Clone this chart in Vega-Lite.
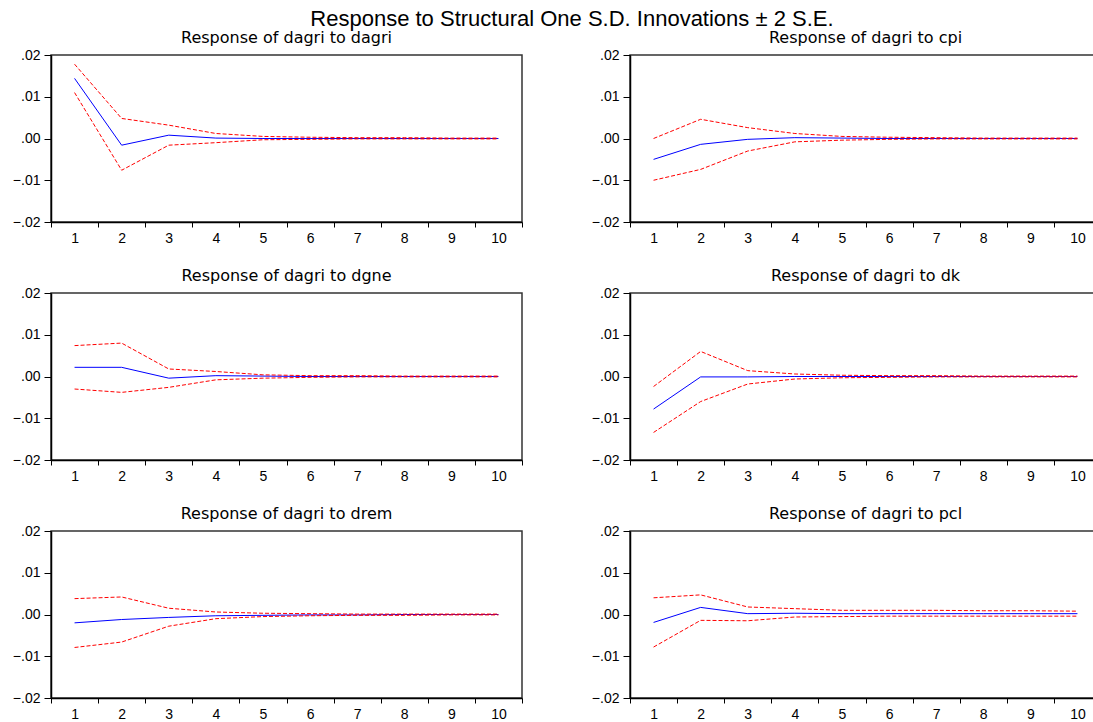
{
  "$schema": "https://vega.github.io/schema/vega-lite/v6.json",
  "padding": {"left": 11, "top": 8, "right": 0, "bottom": 0},
  "title": {"text": "Response to Structural One S.D. Innovations ± 2 S.E.", "font": "Liberation Sans", "fontSize": 22, "fontWeight": "normal", "color": "#000000", "anchor": "middle", "offset": -2, "dx": 15},
  "data": {"values": [
    {"panel": "Response of dagri to dagri", "period": 1, "resp": 0.0144, "upper": 0.0178, "lower": 0.0110},
    {"panel": "Response of dagri to dagri", "period": 2, "resp": -0.0016, "upper": 0.0048, "lower": -0.0076},
    {"panel": "Response of dagri to dagri", "period": 3, "resp": 0.0008, "upper": 0.0032, "lower": -0.0016},
    {"panel": "Response of dagri to dagri", "period": 4, "resp": 0.0001, "upper": 0.0012, "lower": -0.0010},
    {"panel": "Response of dagri to dagri", "period": 5, "resp": 0.0000, "upper": 0.0005, "lower": -0.0003},
    {"panel": "Response of dagri to dagri", "period": 6, "resp": 0.0000, "upper": 0.0003, "lower": -0.0002},
    {"panel": "Response of dagri to dagri", "period": 7, "resp": 0.0000, "upper": 0.0002, "lower": -0.0001},
    {"panel": "Response of dagri to dagri", "period": 8, "resp": 0.0000, "upper": 0.0002, "lower": -0.0001},
    {"panel": "Response of dagri to dagri", "period": 9, "resp": 0.0000, "upper": 0.0001, "lower": -0.0001},
    {"panel": "Response of dagri to dagri", "period": 10, "resp": 0.0000, "upper": 0.0001, "lower": -0.0001},
    {"panel": "Response of dagri to cpi", "period": 1, "resp": -0.0050, "upper": 0.0000, "lower": -0.0100},
    {"panel": "Response of dagri to cpi", "period": 2, "resp": -0.0014, "upper": 0.0046, "lower": -0.0074},
    {"panel": "Response of dagri to cpi", "period": 3, "resp": -0.0002, "upper": 0.0026, "lower": -0.0030},
    {"panel": "Response of dagri to cpi", "period": 4, "resp": 0.0002, "upper": 0.0012, "lower": -0.0008},
    {"panel": "Response of dagri to cpi", "period": 5, "resp": 0.0001, "upper": 0.0005, "lower": -0.0004},
    {"panel": "Response of dagri to cpi", "period": 6, "resp": 0.0000, "upper": 0.0003, "lower": -0.0002},
    {"panel": "Response of dagri to cpi", "period": 7, "resp": 0.0000, "upper": 0.0002, "lower": -0.0001},
    {"panel": "Response of dagri to cpi", "period": 8, "resp": 0.0000, "upper": 0.0001, "lower": -0.0001},
    {"panel": "Response of dagri to cpi", "period": 9, "resp": 0.0000, "upper": 0.0001, "lower": -0.0001},
    {"panel": "Response of dagri to cpi", "period": 10, "resp": 0.0000, "upper": 0.0001, "lower": -0.0001},
    {"panel": "Response of dagri to dgne", "period": 1, "resp": 0.0022, "upper": 0.0074, "lower": -0.0030},
    {"panel": "Response of dagri to dgne", "period": 2, "resp": 0.0022, "upper": 0.0080, "lower": -0.0038},
    {"panel": "Response of dagri to dgne", "period": 3, "resp": -0.0004, "upper": 0.0018, "lower": -0.0026},
    {"panel": "Response of dagri to dgne", "period": 4, "resp": 0.0002, "upper": 0.0012, "lower": -0.0008},
    {"panel": "Response of dagri to dgne", "period": 5, "resp": 0.0001, "upper": 0.0004, "lower": -0.0004},
    {"panel": "Response of dagri to dgne", "period": 6, "resp": 0.0000, "upper": 0.0002, "lower": -0.0002},
    {"panel": "Response of dagri to dgne", "period": 7, "resp": 0.0000, "upper": 0.0002, "lower": -0.0001},
    {"panel": "Response of dagri to dgne", "period": 8, "resp": 0.0000, "upper": 0.0001, "lower": -0.0001},
    {"panel": "Response of dagri to dgne", "period": 9, "resp": 0.0000, "upper": 0.0001, "lower": -0.0001},
    {"panel": "Response of dagri to dgne", "period": 10, "resp": 0.0000, "upper": 0.0001, "lower": -0.0001},
    {"panel": "Response of dagri to dk", "period": 1, "resp": -0.0078, "upper": -0.0024, "lower": -0.0134},
    {"panel": "Response of dagri to dk", "period": 2, "resp": -0.0001, "upper": 0.0060, "lower": -0.0060},
    {"panel": "Response of dagri to dk", "period": 3, "resp": -0.0001, "upper": 0.0014, "lower": -0.0018},
    {"panel": "Response of dagri to dk", "period": 4, "resp": 0.0000, "upper": 0.0006, "lower": -0.0006},
    {"panel": "Response of dagri to dk", "period": 5, "resp": 0.0000, "upper": 0.0003, "lower": -0.0003},
    {"panel": "Response of dagri to dk", "period": 6, "resp": 0.0000, "upper": 0.0002, "lower": -0.0002},
    {"panel": "Response of dagri to dk", "period": 7, "resp": 0.0000, "upper": 0.0002, "lower": -0.0001},
    {"panel": "Response of dagri to dk", "period": 8, "resp": 0.0000, "upper": 0.0001, "lower": -0.0001},
    {"panel": "Response of dagri to dk", "period": 9, "resp": 0.0000, "upper": 0.0001, "lower": -0.0001},
    {"panel": "Response of dagri to dk", "period": 10, "resp": 0.0000, "upper": 0.0001, "lower": -0.0001},
    {"panel": "Response of  dagri to drem", "period": 1, "resp": -0.0020, "upper": 0.0038, "lower": -0.0079},
    {"panel": "Response of  dagri to drem", "period": 2, "resp": -0.0012, "upper": 0.0042, "lower": -0.0066},
    {"panel": "Response of  dagri to drem", "period": 3, "resp": -0.0007, "upper": 0.0015, "lower": -0.0028},
    {"panel": "Response of  dagri to drem", "period": 4, "resp": -0.0003, "upper": 0.0006, "lower": -0.0010},
    {"panel": "Response of  dagri to drem", "period": 5, "resp": -0.0002, "upper": 0.0003, "lower": -0.0005},
    {"panel": "Response of  dagri to drem", "period": 6, "resp": -0.0001, "upper": 0.0002, "lower": -0.0003},
    {"panel": "Response of  dagri to drem", "period": 7, "resp": -0.0001, "upper": 0.0001, "lower": -0.0002},
    {"panel": "Response of  dagri to drem", "period": 8, "resp": 0.0000, "upper": 0.0001, "lower": -0.0002},
    {"panel": "Response of  dagri to drem", "period": 9, "resp": 0.0000, "upper": 0.0001, "lower": -0.0001},
    {"panel": "Response of  dagri to drem", "period": 10, "resp": 0.0000, "upper": 0.0001, "lower": -0.0001},
    {"panel": "Response of dagri to pcl", "period": 1, "resp": -0.0019, "upper": 0.0040, "lower": -0.0078},
    {"panel": "Response of dagri to pcl", "period": 2, "resp": 0.0017, "upper": 0.0047, "lower": -0.0014},
    {"panel": "Response of dagri to pcl", "period": 3, "resp": 0.0002, "upper": 0.0018, "lower": -0.0015},
    {"panel": "Response of dagri to pcl", "period": 4, "resp": 0.0003, "upper": 0.0014, "lower": -0.0006},
    {"panel": "Response of dagri to pcl", "period": 5, "resp": 0.0002, "upper": 0.0010, "lower": -0.0005},
    {"panel": "Response of dagri to pcl", "period": 6, "resp": 0.0002, "upper": 0.0010, "lower": -0.0004},
    {"panel": "Response of dagri to pcl", "period": 7, "resp": 0.0002, "upper": 0.0010, "lower": -0.0004},
    {"panel": "Response of dagri to pcl", "period": 8, "resp": 0.0002, "upper": 0.0009, "lower": -0.0004},
    {"panel": "Response of dagri to pcl", "period": 9, "resp": 0.0002, "upper": 0.0009, "lower": -0.0004},
    {"panel": "Response of dagri to pcl", "period": 10, "resp": 0.0002, "upper": 0.0008, "lower": -0.0004}
  ]},
  "facet": {
    "field": "panel", "type": "nominal",
    "sort": ["Response of dagri to dagri", "Response of dagri to cpi", "Response of dagri to dgne", "Response of dagri to dk", "Response of  dagri to drem", "Response of dagri to pcl"],
    "title": null,
    "header": {"labelFont": "DejaVu Sans", "labelFontSize": 16, "labelColor": "#000000", "labelPadding": 2}
  },
  "columns": 2,
  "spacing": {"row": 21, "column": 66},
  "spec": {
    "width": 471,
    "height": 167,
    "encoding": {
      "x": {"field": "period", "type": "ordinal", "scale": {"type": "band", "paddingInner": 0, "paddingOuter": 0}, "axis": {"title": null, "labelAngle": 0, "tickBand": "extent", "grid": false}}
    },
    "layer": [
      {"mark": {"type": "rule", "color": "#000000", "strokeWidth": 1}, "encoding": {"y": {"datum": 0, "type": "quantitative", "scale": {"domain": [-0.02, 0.02], "nice": false, "zero": false}, "axis": {"title": null, "values": [-0.02, -0.01, 0, 0.01, 0.02], "labelExpr": "replace(format(datum.value, '.2f'), '0.', '.')", "grid": false}}}},
      {"mark": {"type": "line", "color": "#0000ff", "strokeWidth": 1}, "encoding": {"y": {"field": "resp", "type": "quantitative", "scale": {"domain": [-0.02, 0.02], "nice": false, "zero": false}, "axis": {"title": null, "values": [-0.02, -0.01, 0, 0.01, 0.02], "labelExpr": "replace(format(datum.value, '.2f'), '0.', '.')", "grid": false}}}},
      {"mark": {"type": "line", "color": "#ff0000", "strokeWidth": 1, "strokeDash": [4, 2]}, "encoding": {"y": {"field": "upper", "type": "quantitative", "scale": {"domain": [-0.02, 0.02], "nice": false, "zero": false}, "axis": {"title": null, "values": [-0.02, -0.01, 0, 0.01, 0.02], "labelExpr": "replace(format(datum.value, '.2f'), '0.', '.')", "grid": false}}}},
      {"mark": {"type": "line", "color": "#ff0000", "strokeWidth": 1, "strokeDash": [4, 2]}, "encoding": {"y": {"field": "lower", "type": "quantitative", "scale": {"domain": [-0.02, 0.02], "nice": false, "zero": false}, "axis": {"title": null, "values": [-0.02, -0.01, 0, 0.01, 0.02], "labelExpr": "replace(format(datum.value, '.2f'), '0.', '.')", "grid": false}}}}
    ]
  },
  "resolve": {"axis": {"x": "independent", "y": "independent"}},
  "config": {
    "background": "#ffffff",
    "font": "Liberation Sans",
    "view": {"stroke": "#333333", "strokeWidth": 1.5},
    "axis": {"domainColor": "#000000", "domainWidth": 1.5, "tickColor": "#000000", "tickWidth": 1, "labelColor": "#000000", "labelFont": "Liberation Sans", "labelFontSize": 14},
    "axisX": {"tickSize": 5, "labelPadding": 4},
    "axisY": {"tickSize": 7, "labelPadding": 4}
  }
}
